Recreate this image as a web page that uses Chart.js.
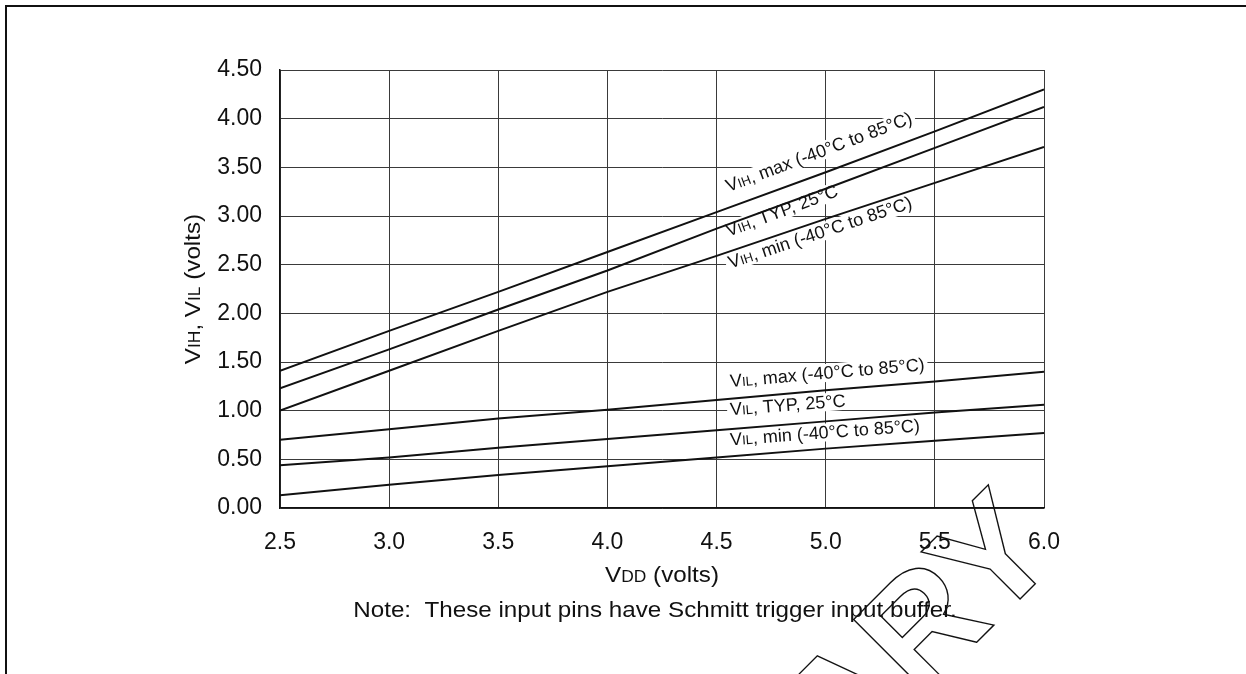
<!DOCTYPE html>
<html><head><meta charset="utf-8">
<script src="https://cdn.jsdelivr.net/npm/chart.js@4.4.0/dist/chart.umd.min.js"></script>
<style>
html,body{margin:0;padding:0;background:#fff;overflow:hidden;}
#wrap{position:relative;width:1246px;height:674px;overflow:hidden;}
#frame{position:absolute;left:5px;top:5px;width:1400px;height:800px;border-top:2px solid #111;border-left:2px solid #111;}
canvas{position:absolute;left:0;top:0;}
</style></head><body>
<div id="wrap"><div id="frame"></div><canvas id="c" width="1246" height="674"></canvas></div>
<script>
// ---- data ----
const vdd    = [2.5, 3.0, 3.5, 4.0, 4.5, 5.0, 5.5, 6.0];
const vihMax = [1.41, 1.82, 2.22, 2.63, 3.04, 3.45, 3.87, 4.30];
const vihTyp = [1.23, 1.63, 2.04, 2.44, 2.87, 3.28, 3.70, 4.12];
const vihMin = [1.00, 1.41, 1.82, 2.22, 2.59, 2.97, 3.34, 3.71];
const vilMax = [0.70, 0.81, 0.92, 1.01, 1.11, 1.21, 1.30, 1.40];
const vilTyp = [0.44, 0.52, 0.62, 0.71, 0.80, 0.89, 0.98, 1.06];
const vilMin = [0.13, 0.24, 0.34, 0.43, 0.52, 0.61, 0.69, 0.77];
const xTicks = [2.5, 3.0, 3.5, 4.0, 4.5, 5.0, 5.5, 6.0];
const yTicks = [0.0, 0.5, 1.0, 1.5, 2.0, 2.5, 3.0, 3.5, 4.0, 4.5];

const series = [vihMax, vihTyp, vihMin, vilMax, vilTyp, vilMin];
const FONT = '"Liberation Sans", Arial, Helvetica, sans-serif';
const SMALL = 0.72;

// curve labels: [series index, VDD at text start, volts at text baseline start, parts]
const curveLabels = [
  [0, 4.555, 3.246, [['V',1],['IH',SMALL],[', max (-40°C to 85°C)',1]]],
  [1, 4.555, 2.786, [['V',1],['IH',SMALL],[', TYP, 25°C',1]]],
  [2, 4.564, 2.461, [['V',1],['IH',SMALL],[', min (-40°C to 85°C)',1]]],
  [3, 4.564, 1.243, [['V',1],['IL',SMALL],[', max (-40°C to 85°C)',1]]],
  [4, 4.564, 0.952, [['V',1],['IL',SMALL],[', TYP, 25°C',1]]],
  [5, 4.564, 0.643, [['V',1],['IL',SMALL],[', min (-40°C to 85°C)',1]]]
];
const yTitle = [['V',1],['IH',SMALL],[', V',1],['IL',SMALL],[' (volts)',1]];
const xTitle = [['V',1],['DD',SMALL],[' (volts)',1]];
const noteText = 'Note:  These input pins have Schmitt trigger input buffer.';

function richWidth(ctx, parts, size){
  let w = 0;
  for (const [t,s] of parts){ ctx.font = (size*s)+'px '+FONT; w += ctx.measureText(t).width; }
  return w;
}
function drawRich(ctx, parts, x, y, size){
  let cx = x;
  ctx.textAlign = 'left'; ctx.textBaseline = 'alphabetic';
  for (const [t,s] of parts){ ctx.font = (size*s)+'px '+FONT; ctx.fillText(t, cx, y); cx += ctx.measureText(t).width; }
}
const STRETCH = 1.1;

const annot = {
  id: 'annot',
  beforeDatasetsDraw(chart){
    const ctx = chart.ctx, xs = chart.scales.x, ys = chart.scales.y;
    ctx.save();
    for (const [si, vx, vy, parts] of curveLabels){
      const d = series[si];
      const x1 = xs.getPixelForValue(vdd[4]), y1 = ys.getPixelForValue(d[4]);
      const x2 = xs.getPixelForValue(vdd[7]), y2 = ys.getPixelForValue(d[7]);
      const ang = Math.atan2(y2-y1, x2-x1);
      const px = xs.getPixelForValue(vx), py = ys.getPixelForValue(vy);
      const size = 18;
      ctx.save();
      ctx.translate(px, py); ctx.rotate(ang);
      const w = richWidth(ctx, parts, size);
      ctx.fillStyle = '#fff';
      ctx.fillRect(-3, -size*0.82, w+6, size*1.0);
      ctx.fillStyle = '#111';
      drawRich(ctx, parts, 0, 0, size);
      ctx.restore();
    }
    ctx.restore();
  },
  afterDraw(chart){
    const ctx = chart.ctx, a = chart.chartArea;
    ctx.save();
    ctx.fillStyle = '#111';
    const size = 22;
    // y title
    ctx.save();
    const yw = richWidth(ctx, yTitle, size) * STRETCH;
    ctx.translate(192 + size*0.36, (a.top + a.bottom)/2);
    ctx.rotate(-Math.PI/2);
    ctx.translate(-yw/2, 0);
    ctx.scale(STRETCH, 1);
    drawRich(ctx, yTitle, 0, 0, size);
    ctx.restore();
    // x title
    ctx.save();
    const xw = richWidth(ctx, xTitle, size) * STRETCH;
    ctx.translate((a.left + a.right)/2 - xw/2, 582);
    ctx.scale(STRETCH, 1);
    drawRich(ctx, xTitle, 0, 0, size);
    ctx.restore();
    // note
    ctx.save();
    ctx.translate(655, 617);
    ctx.scale(STRETCH, 1);
    ctx.font = size+'px '+FONT;
    ctx.textAlign = 'center'; ctx.textBaseline = 'alphabetic';
    ctx.fillText(noteText, 0, 0);
    ctx.restore();
    // watermark
    ctx.save();
    ctx.translate(1063, 556);
    ctx.rotate(-Math.PI/4);
    ctx.font = 'bold 150px '+FONT;
    ctx.textAlign = 'right';
    ctx.strokeStyle = '#111';
    ctx.lineWidth = 1.4;
    ctx.strokeText('PRELIMINARY', 0, 0);
    ctx.restore();
    ctx.restore();
  }
};

const datasets = series.map(s => ({
  data: vdd.map((v,i) => ({x: v, y: s[i]})),
  borderColor: '#111', borderWidth: 2, pointRadius: 0, fill: false, tension: 0
}));

new Chart(document.getElementById('c'), {
  type: 'line',
  data: { datasets },
  plugins: [annot],
  options: {
    responsive: false, animation: false,
    layout: { padding: { top: 70, right: 202, left: 0, bottom: 0 } },
    plugins: { legend: {display:false}, tooltip: {enabled:false} },
    scales: {
      x: {
        type: 'linear', min: 2.5, max: 6.0,
        afterBuildTicks(s){ s.ticks = xTicks.map(v => ({value: v})); },
        afterFit(s){ s.height = 166; },
        grid: { color: '#3a3a3a', lineWidth: 1, drawTicks: false },
        border: { color: '#111', width: 1.5 },
        ticks: { padding: 21, color: '#111', font: { family: FONT, size: 23 }, callback: v => Number(v).toFixed(1), maxRotation: 0, autoSkip: false }
      },
      y: {
        type: 'linear', min: 0, max: 4.5,
        afterBuildTicks(s){ s.ticks = yTicks.map(v => ({value: v})); },
        afterFit(s){ s.width = 280; },
        grid: { color: '#3a3a3a', lineWidth: 1, drawTicks: false },
        border: { color: '#111', width: 1.5 },
        ticks: { padding: 18, color: '#111', font: { family: FONT, size: 23 }, callback: v => Number(v).toFixed(2), autoSkip: false }
      }
    }
  }
});
</script>
</body></html>
